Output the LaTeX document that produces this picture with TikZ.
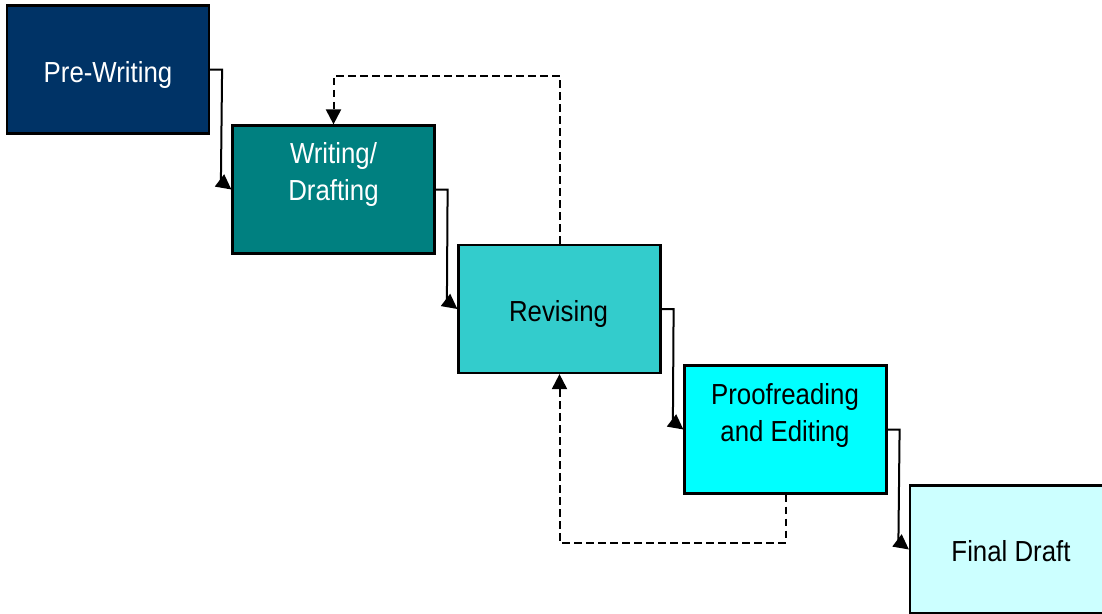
\documentclass[tikz,border=0pt]{standalone}
\usepackage{fontspec}
\setmainfont{Liberation Sans}[FakeStretch=0.89]
\usetikzlibrary{arrows.meta,calc}

\definecolor{stageA}{HTML}{003366}
\definecolor{stageB}{HTML}{008080}
\definecolor{stageC}{HTML}{33CCCC}
\definecolor{stageD}{HTML}{00FFFF}
\definecolor{stageE}{HTML}{CCFFFF}

\begin{document}
\begin{tikzpicture}[x=1pt,y=-1pt,
  stagebox/.style={draw=black, line width=2.2pt, minimum width=202pt,
    minimum height=128pt, inner sep=0pt},
  label/.style={anchor=base, inner sep=0pt, align=center,
    font=\fontsize{29}{37}\selectfont},
  flow/.style={draw=black, line width=2pt,
    -{Triangle[length=15pt,width=15pt]}},
  loopback/.style={draw=black, line width=2pt, dash pattern=on 7.5pt off 4.5pt,
    -{Triangle[length=15pt,width=15pt]}}
]
  \useasboundingbox (0,0) rectangle (1102,613);
  \fill[white] (0,0) rectangle (1102,613);

  % stage boxes
  \node[stagebox, fill=stageA] (pw) at (108,69.5) {};
  \node[stagebox, fill=stageB] (wd) at (333.5,189.5) {};
  \node[stagebox, fill=stageC] (rv) at (559.5,309) {};
  \node[stagebox, fill=stageD] (pe) at (785.5,429.5) {};
  \node[stagebox, fill=stageE] (fd) at (1011,549.5) {};

  % stage names (base = baseline of the last line)
  \node[label, text=white] (pwt) at (108,82.3) {Pre-Writing};
  \node[label, text=white] (wdt) at (333.5,200.7) {Writing/\\Drafting};
  \node[label] (rvt) at (558.5,321.7) {Revising};
  \node[label] (pet) at (785,441.7) {Proofreading\\and Editing};
  \node[label] (fdt) at (1011,561.7) {Final Draft};

  % forward steps
  \draw[flow] (pw.east) -- ++(12,0) -- ($(wd.west)+(-10.5,-8)$) -- (wd.west);
  \draw[flow] (wd.east) -- ++(12,0) -- ($(rv.west)+(-10.5,-8)$) -- (rv.west);
  \draw[flow] (rv.east) -- ++(12,0) -- ($(pe.west)+(-10.5,-8)$) -- (pe.west);
  \draw[flow] (pe.east) -- ++(12,0) -- ($(fd.west)+(-10.5,-8)$) -- (fd.west);

  % feedback loops
  \draw[loopback] (rv.north) -- ++(0,-168) -| (wd.north);
  \draw[loopback] (pe.south) -- ++(0,48) -| (rv.south);
\end{tikzpicture}
\end{document}
